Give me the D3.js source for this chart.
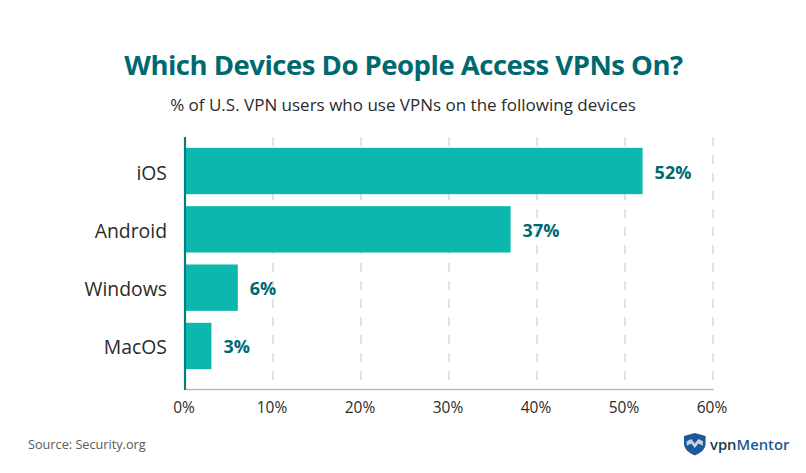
<!DOCTYPE html>
<html>
<head>
<meta charset="utf-8">
<script src="https://cdn.jsdelivr.net/npm/d3@7"></script>
<style>
  body { margin: 0; background: #fff; }
  svg { display: block; font-family: "Open Sans", sans-serif; }
</style>
</head>
<body>
<svg id="chart" width="806" height="473"></svg>
<script>
const devices = ["iOS", "Android", "Windows", "MacOS"];
const shares = [52, 37, 6, 3];
const tickValues = [0, 10, 20, 30, 40, 50, 60];

const svg = d3.select("#chart");

const x = d3.scaleLinear().domain([0, 60]).range([185, 713]);
const y = d3.scaleBand().domain(devices).range([142, 375]).paddingInner(0.205).paddingOuter(0.1);

svg.append("text")
    .attr("x", 403.5).attr("y", 75)
    .attr("text-anchor", "middle")
    .attr("font-size", 27.5).attr("font-weight", 700)
    .attr("letter-spacing", -0.5)
    .attr("fill", "#00686f")
    .text("Which Devices Do People Access VPNs On?");

svg.append("text")
    .attr("x", 403).attr("y", 111)
    .attr("text-anchor", "middle")
    .attr("font-size", 17)
    .attr("fill", "#2b2b2b")
    .text("% of U.S. VPN users who use VPNs on the following devices");

// dashed gridlines
svg.selectAll(".grid")
    .data(tickValues.slice(1))
    .join("line")
    .attr("class", "grid")
    .attr("x1", d => x(d)).attr("x2", d => x(d))
    .attr("y1", 137).attr("y2", 389)
    .attr("stroke", "#d9d9d9").attr("stroke-width", 1.5)
    .attr("stroke-dasharray", "9 9");

// bottom axis
const axis = svg.append("g")
    .attr("transform", "translate(0,389)")
    .call(d3.axisBottom(x).tickValues(tickValues).tickFormat(d => d + "%").tickSize(0).tickPadding(13));
axis.select(".domain").attr("stroke", "#b9b9b9").attr("stroke-width", 1.5);
axis.selectAll("text")
    .attr("font-family", "Open Sans").attr("font-size", 15.5).attr("fill", "#2b2b2b");
axis.selectAll(".tick").attr("transform", d => `translate(${x(d) - 1},0)`);

svg.selectAll(".bar")
    .data(shares)
    .join("rect")
    .attr("class", "bar")
    .attr("x", x(0))
    .attr("y", (d, i) => y(devices[i]))
    .attr("width", d => x(d) - x(0))
    .attr("height", y.bandwidth())
    .attr("fill", "#0cb7ae");

svg.selectAll(".value")
    .data(shares)
    .join("text")
    .attr("class", "value")
    .attr("x", d => x(d) + 12)
    .attr("y", (d, i) => y(devices[i]) + y.bandwidth() / 2 + 7.5)
    .attr("font-size", 18).attr("font-weight", 700)
    .attr("fill", "#00686f")
    .text(d => d + "%");

svg.selectAll(".device")
    .data(devices)
    .join("text")
    .attr("class", "device")
    .attr("x", 167)
    .attr("y", d => y(d) + y.bandwidth() / 2 + 8.5)
    .attr("text-anchor", "end")
    .attr("font-size", 19.4)
    .attr("fill", "#2b2b2b")
    .text(d => d);

// vertical axis line
svg.append("line")
    .attr("x1", 185).attr("x2", 185)
    .attr("y1", 137).attr("y2", 390)
    .attr("stroke", "#00807f").attr("stroke-width", 2.2);

svg.append("text")
    .attr("x", 28).attr("y", 449)
    .attr("font-size", 12.7)
    .attr("fill", "#5a5a5a")
    .text("Source: Security.org");

// logo
const logo = svg.append("g").attr("transform", "translate(684,433) scale(0.9,0.75)");
logo.append("path")
    .attr("d", "M12 0 L24 4 L24 14 C24 22 18 27 12 30 C6 27 0 22 0 14 L0 4 Z")
    .attr("fill", "#1c5a9c");
logo.append("path")
    .attr("d", "M3 11 L8 8 L12 14 L16 8 L21 11 L21 17 L16 14 L12 20 L8 14 L3 17 Z")
    .attr("fill", "#c9d3de");
svg.append("text")
    .attr("x", 710).attr("y", 450)
    .attr("font-size", 14.8).attr("font-weight", 600)
    .attr("fill", "#22384a")
    .text("vpn")
    .append("tspan")
    .attr("fill", "#1c5a9c")
    .text("Mentor");
</script>
</body>
</html>
